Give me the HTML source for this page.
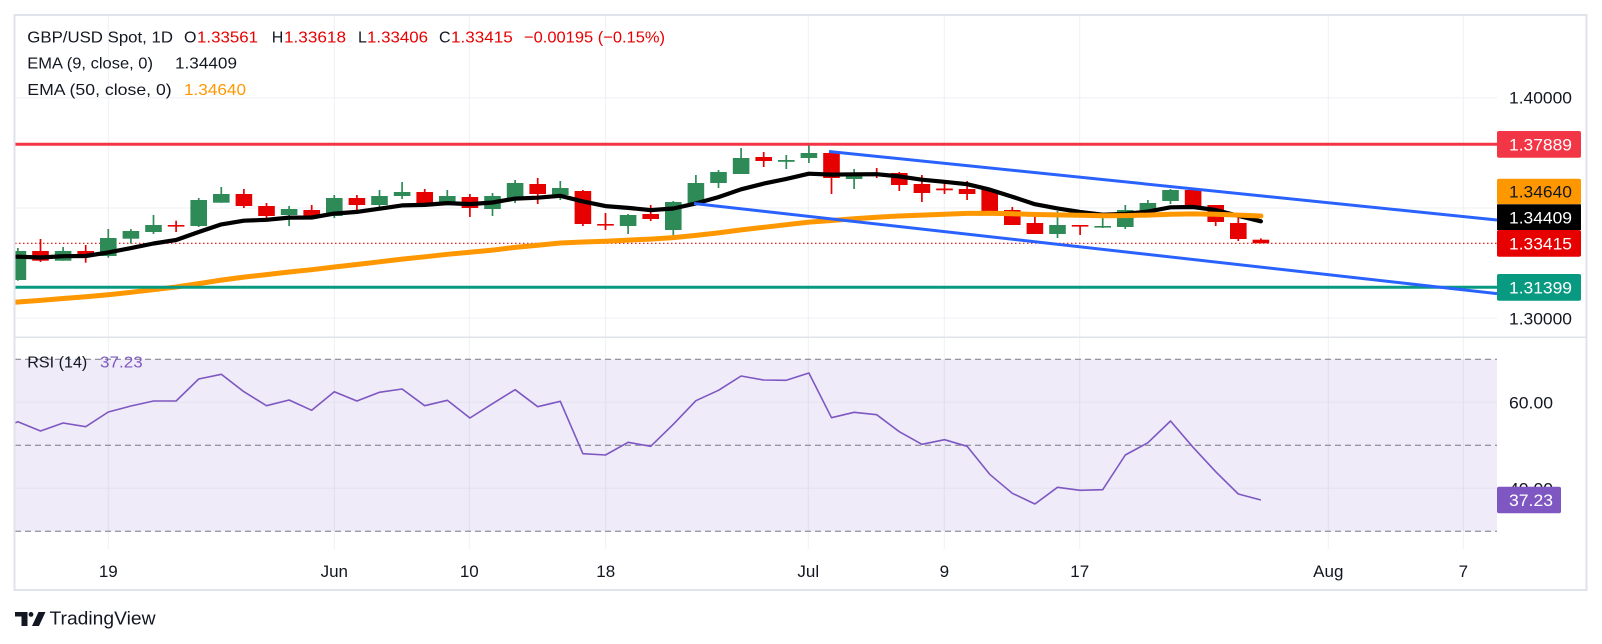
<!DOCTYPE html>
<html><head><meta charset="utf-8"><style>
html,body{margin:0;padding:0;background:#fff;}
svg{display:block;font-family:"Liberation Sans",sans-serif;}
</style></head><body>
<svg width="1602" height="644" viewBox="0 0 1602 644" xmlns="http://www.w3.org/2000/svg">
<defs>
<clipPath id="cp"><rect x="15" y="16" width="1482" height="321"/></clipPath>
<clipPath id="cr"><rect x="15" y="338" width="1482" height="211"/></clipPath>
</defs>
<rect width="1602" height="644" fill="#fff"/>
<!-- vertical grid -->
<g stroke="#EEF0F5" stroke-width="1">
<line x1="108.3" y1="15" x2="108.3" y2="549"/><line x1="334.3" y1="15" x2="334.3" y2="549"/>
<line x1="469.3" y1="15" x2="469.3" y2="549"/><line x1="605.7" y1="15" x2="605.7" y2="549"/>
<line x1="808.3" y1="15" x2="808.3" y2="549"/><line x1="944.3" y1="15" x2="944.3" y2="549"/>
<line x1="1079.7" y1="15" x2="1079.7" y2="549"/><line x1="1328.3" y1="15" x2="1328.3" y2="549"/>
<line x1="1463.3" y1="15" x2="1463.3" y2="549"/>
<line x1="15" y1="97.8" x2="1497" y2="97.8"/><line x1="15" y1="208" x2="1497" y2="208"/><line x1="15" y1="318.1" x2="1497" y2="318.1"/>
</g>
<!-- RSI pane -->
<rect x="15" y="359.3" width="1482" height="172" fill="#7E57C2" fill-opacity="0.12"/>
<g stroke="#E6E3EE" stroke-width="1"><line x1="15" y1="402.3" x2="1497" y2="402.3"/><line x1="15" y1="488.3" x2="1497" y2="488.3"/></g>
<g stroke="#787B86" stroke-width="1" stroke-dasharray="6 4">
<line x1="15" y1="359.3" x2="1497" y2="359.3"/><line x1="15" y1="445.3" x2="1497" y2="445.3"/><line x1="15" y1="531.3" x2="1497" y2="531.3"/>
</g>
<polyline clip-path="url(#cr)" fill="none" stroke="#7E57C2" stroke-width="1.6" stroke-linejoin="round" points="-4.7,432 17.9,421.7 40.5,431 63.1,423 85.7,426.7 108.3,412 130.9,406 153.5,401 176.1,401 198.7,379 221.3,374.3 243.9,391.7 266.5,405.7 289.1,400 311.7,410.3 334.3,391.7 356.9,401 379.5,392.3 402.1,389 424.7,405.7 447.3,400.3 469.9,418 492.5,403.7 515.1,389.7 537.7,406.7 560.3,401.3 582.9,453.7 605.5,455 628.1,442.3 650.7,446.3 673.3,424.3 695.9,400.7 718.5,390.3 741.1,376 763.7,380 786.3,380.3 808.9,373 831.5,417.7 854.1,412.3 876.7,414.7 899.3,431.7 921.9,444.3 944.5,439.7 967.1,446.3 989.7,474.3 1012.3,493.3 1034.9,504 1057.5,487.3 1080.1,490.3 1102.7,489.7 1125.3,455 1147.9,442.7 1170.5,421 1193.1,447.3 1215.7,471.7 1238.3,494 1260.9,500"/>

<g clip-path="url(#cp)">
<line x1="15" y1="243.3" x2="1497" y2="243.3" stroke="#E60000" stroke-width="1.2" stroke-dasharray="1.5 2.5"/>
<!-- green candles -->
<g fill="#2E8B57">
<rect x="9.6" y="251" width="16.6" height="29"/><rect x="17.05" y="248" width="1.7" height="32.7"/>
<rect x="54.8" y="251" width="16.6" height="9.7"/><rect x="62.25" y="247" width="1.7" height="13.7"/>
<rect x="100" y="238" width="16.6" height="18"/><rect x="107.45" y="229" width="1.7" height="28.7"/>
<rect x="122.6" y="231" width="16.6" height="7.7"/><rect x="130.05" y="229" width="1.7" height="14.7"/>
<rect x="145.2" y="225" width="16.6" height="7"/><rect x="152.65" y="215" width="1.7" height="19"/>
<rect x="190.4" y="200" width="16.6" height="26"/><rect x="197.85" y="198" width="1.7" height="29"/>
<rect x="213" y="194" width="16.6" height="8.7"/><rect x="220.45" y="187" width="1.7" height="15.7"/>
<rect x="280.8" y="209" width="16.6" height="6"/><rect x="288.25" y="206" width="1.7" height="20"/>
<rect x="326" y="198" width="16.6" height="18"/><rect x="333.45" y="195" width="1.7" height="23"/>
<rect x="371.2" y="196" width="16.6" height="9"/><rect x="378.65" y="190" width="1.7" height="17"/>
<rect x="393.8" y="192" width="16.6" height="4"/><rect x="401.25" y="182" width="1.7" height="17"/>
<rect x="439" y="196" width="16.6" height="6"/><rect x="446.45" y="190" width="1.7" height="12"/>
<rect x="484.2" y="196" width="16.6" height="13"/><rect x="491.65" y="193" width="1.7" height="23"/>
<rect x="506.8" y="183" width="16.6" height="16"/><rect x="514.25" y="180" width="1.7" height="23"/>
<rect x="552" y="188" width="16.6" height="7"/><rect x="559.45" y="181" width="1.7" height="19"/>
<rect x="619.8" y="215" width="16.6" height="11"/><rect x="627.25" y="214" width="1.7" height="20"/>
<rect x="665" y="202" width="16.6" height="28"/><rect x="672.45" y="201" width="1.7" height="35"/>
<rect x="687.6" y="183" width="16.6" height="21"/><rect x="695.05" y="175" width="1.7" height="29"/>
<rect x="710.2" y="172" width="16.6" height="11"/><rect x="717.65" y="170" width="1.7" height="18"/>
<rect x="732.8" y="158" width="16.6" height="16"/><rect x="740.25" y="148" width="1.7" height="26"/>
<rect x="778" y="160" width="16.6" height="1.8"/><rect x="785.45" y="155" width="1.7" height="14"/>
<rect x="800.6" y="153" width="16.6" height="5"/><rect x="808.05" y="144" width="1.7" height="19"/>
<rect x="845.8" y="173" width="16.6" height="6"/><rect x="853.25" y="169" width="1.7" height="20"/>
<rect x="1049.2" y="225" width="16.6" height="9"/><rect x="1056.65" y="211" width="1.7" height="27"/>
<rect x="1094.4" y="226" width="16.6" height="1.6"/><rect x="1101.85" y="213" width="1.7" height="15"/>
<rect x="1117" y="210" width="16.6" height="17"/><rect x="1124.45" y="205" width="1.7" height="24"/>
<rect x="1139.6" y="203" width="16.6" height="8"/><rect x="1147.05" y="200" width="1.7" height="16"/>
<rect x="1162.2" y="190" width="16.6" height="11"/><rect x="1169.65" y="189" width="1.7" height="15"/>
</g>
<!-- red candles -->
<g fill="#E60000">
<rect x="32.2" y="251" width="16.6" height="9.7"/><rect x="39.65" y="239" width="1.7" height="23"/>
<rect x="77.4" y="251" width="16.6" height="4"/><rect x="84.85" y="245" width="1.7" height="17.7"/>
<rect x="167.8" y="225" width="16.6" height="1.6"/><rect x="175.25" y="220.7" width="1.7" height="11.3"/>
<rect x="235.6" y="194" width="16.6" height="12"/><rect x="243.05" y="189" width="1.7" height="19"/>
<rect x="258.2" y="206" width="16.6" height="10"/><rect x="265.65" y="203" width="1.7" height="16"/>
<rect x="303.4" y="210" width="16.6" height="7"/><rect x="310.85" y="205" width="1.7" height="14"/>
<rect x="348.6" y="198" width="16.6" height="7"/><rect x="356.05" y="195" width="1.7" height="15"/>
<rect x="416.4" y="192" width="16.6" height="11"/><rect x="423.85" y="189" width="1.7" height="17"/>
<rect x="461.6" y="197" width="16.6" height="11"/><rect x="469.05" y="194" width="1.7" height="23"/>
<rect x="529.4" y="184" width="16.6" height="10"/><rect x="536.85" y="178" width="1.7" height="26"/>
<rect x="574.6" y="191" width="16.6" height="33"/><rect x="582.05" y="190" width="1.7" height="36"/>
<rect x="597.2" y="224" width="16.6" height="1.6"/><rect x="604.65" y="213" width="1.7" height="17"/>
<rect x="642.4" y="214" width="16.6" height="5"/><rect x="649.85" y="205" width="1.7" height="16"/>
<rect x="755.4" y="157" width="16.6" height="4"/><rect x="762.85" y="152" width="1.7" height="15"/>
<rect x="823.2" y="153" width="16.6" height="25"/><rect x="830.65" y="152" width="1.7" height="42"/>
<rect x="868.4" y="173" width="16.6" height="1.6"/><rect x="875.85" y="168" width="1.7" height="10"/>
<rect x="891" y="173" width="16.6" height="12"/><rect x="898.45" y="172" width="1.7" height="19"/>
<rect x="913.6" y="184" width="16.6" height="9"/><rect x="921.05" y="175" width="1.7" height="27"/>
<rect x="936.2" y="188.5" width="16.6" height="1.8"/><rect x="943.65" y="181" width="1.7" height="13"/>
<rect x="958.8" y="189" width="16.6" height="5"/><rect x="966.25" y="181" width="1.7" height="19"/>
<rect x="981.4" y="190" width="16.6" height="21"/><rect x="988.85" y="189" width="1.7" height="23"/>
<rect x="1004" y="210" width="16.6" height="15"/><rect x="1011.45" y="207" width="1.7" height="18"/>
<rect x="1026.6" y="223" width="16.6" height="11"/><rect x="1034.05" y="215" width="1.7" height="19"/>
<rect x="1071.8" y="225" width="16.6" height="1.6"/><rect x="1079.25" y="225" width="1.7" height="10"/>
<rect x="1184.8" y="190" width="16.6" height="16"/><rect x="1192.25" y="188" width="1.7" height="19"/>
<rect x="1207.4" y="205" width="16.6" height="17"/><rect x="1214.85" y="205" width="1.7" height="21"/>
<rect x="1230" y="223" width="16.6" height="16"/><rect x="1237.45" y="218" width="1.7" height="23"/>
<rect x="1252.6" y="239.7" width="16.6" height="3.6"/><rect x="1260.05" y="238.4" width="1.7" height="5"/>
</g>
<!-- EMA 9 -->
<polyline fill="none" stroke="#000" stroke-width="4.2" stroke-linejoin="round" stroke-linecap="round" points="-5,256.5 17.9,256.7 40.5,257.5 63.1,256.2 85.7,256 108.3,252.4 130.9,248.1 153.5,243.5 176.1,240 198.7,232 221.3,224.4 243.9,220.7 266.5,219.8 289.1,217.6 311.7,217.5 334.3,213.6 356.9,211.9 379.5,208.7 402.1,205.4 424.7,204.9 447.3,203.1 469.9,204.1 492.5,202.5 515.1,198.6 537.7,197.7 560.3,195.8 582.9,201.4 605.5,206.1 628.1,207.9 650.7,210.1 673.3,208.5 695.9,203.4 718.5,197.1 741.1,189.3 763.7,183.6 786.3,178.9 808.9,173.7 831.5,174.6 854.1,174.3 876.7,174.2 899.3,176.4 921.9,179.7 944.5,181.8 967.1,184.2 989.7,189.6 1012.3,196.7 1034.9,204.2 1057.5,208.4 1080.1,211.9 1102.7,214.7 1125.3,213.8 1147.9,211.6 1170.5,207.3 1193.1,207 1215.7,210 1238.3,215.8 1260.9,221.3"/>
<!-- EMA 50 -->
<polyline fill="none" stroke="#FF9800" stroke-width="5" stroke-linejoin="round" stroke-linecap="round" points="-5,303.5 17.9,302 40.5,300.4 63.1,298.5 85.7,296.8 108.3,294.8 130.9,292.3 153.5,289.6 176.1,287 198.7,283.6 221.3,280.1 243.9,277.1 266.5,274.6 289.1,272 311.7,269.7 334.3,267 356.9,264.5 379.5,261.8 402.1,259.1 424.7,256.8 447.3,254.3 469.9,252.3 492.5,250.1 515.1,247.4 537.7,245.2 560.3,243 582.9,242 605.5,241.2 628.1,240.1 650.7,239.1 673.3,237.6 695.9,235.4 718.5,232.9 741.1,229.9 763.7,227.3 786.3,224.7 808.9,222.1 831.5,220.5 854.1,218.8 876.7,217.2 899.3,216 921.9,215.1 944.5,214.2 967.1,213.4 989.7,213.3 1012.3,213.8 1034.9,214.5 1057.5,214.9 1080.1,215.3 1102.7,215.7 1125.3,215.6 1147.9,215.1 1170.5,214.2 1193.1,213.9 1215.7,214.2 1238.3,215.1 1260.9,216"/>
<!-- horizontal levels -->
<line x1="15" y1="144.3" x2="1497" y2="144.3" stroke="#F23645" stroke-width="3"/>
<line x1="15" y1="287.3" x2="1497" y2="287.3" stroke="#089981" stroke-width="3"/>
<!-- channel -->
<line x1="829" y1="151.5" x2="1497" y2="220" stroke="#2962FF" stroke-width="3"/>
<line x1="694" y1="203.5" x2="1497" y2="293.6" stroke="#2962FF" stroke-width="3"/>
</g>

<!-- frame -->
<rect x="14.5" y="15" width="1572" height="575" fill="none" stroke="#E0E3EB" stroke-width="2"/>
<line x1="15" y1="337.3" x2="1586" y2="337.3" stroke="#E0E3EB" stroke-width="1.5"/>

<!-- price axis -->
<g font-size="17" fill="#131722">
<text x="1509" y="103.5" textLength="63" lengthAdjust="spacingAndGlyphs">1.40000</text>
<text x="1509" y="324.5" textLength="63" lengthAdjust="spacingAndGlyphs">1.30000</text>
<text x="1509" y="408.5" textLength="44" lengthAdjust="spacingAndGlyphs">60.00</text>
<text x="1509" y="494.5" textLength="44" lengthAdjust="spacingAndGlyphs">40.00</text>
</g>
<rect x="1497" y="131" width="84" height="26.7" rx="2" fill="#F23645"/>
<rect x="1497" y="178.7" width="84" height="25.6" rx="2" fill="#FF9800"/>
<rect x="1497" y="204.3" width="84" height="25.7" fill="#000"/>
<rect x="1497" y="230" width="84" height="26.7" rx="2" fill="#E60000"/>
<rect x="1497" y="274" width="84" height="26.7" rx="2" fill="#089981"/>
<rect x="1497" y="486.7" width="64" height="26.6" rx="2" fill="#7E57C2"/>
<g font-size="17" fill="#fff">
<text x="1509" y="150.5" textLength="63" lengthAdjust="spacingAndGlyphs">1.37889</text>
<text x="1509" y="197.7" textLength="63" lengthAdjust="spacingAndGlyphs" fill="#131722">1.34640</text>
<text x="1509" y="223.4" textLength="63" lengthAdjust="spacingAndGlyphs">1.34409</text>
<text x="1509" y="249.5" textLength="63" lengthAdjust="spacingAndGlyphs">1.33415</text>
<text x="1509" y="293.5" textLength="63" lengthAdjust="spacingAndGlyphs">1.31399</text>
<text x="1509" y="506.2" textLength="44" lengthAdjust="spacingAndGlyphs">37.23</text>
</g>

<!-- time axis -->
<g font-size="17" fill="#131722" text-anchor="middle">
<text x="108.3" y="577">19</text><text x="334.3" y="577">Jun</text><text x="469.3" y="577">10</text>
<text x="605.7" y="577">18</text><text x="808.3" y="577">Jul</text><text x="944.3" y="577">9</text>
<text x="1079.7" y="577">17</text><text x="1328.3" y="577">Aug</text><text x="1463.3" y="577">7</text>
</g>

<!-- legend -->
<g font-size="16" fill="#131722">
<text x="27.3" y="42.7" textLength="145.7" lengthAdjust="spacingAndGlyphs">GBP/USD Spot, 1D</text>
<text x="184" y="42.7">O</text><text x="271.7" y="42.7">H</text><text x="358" y="42.7">L</text><text x="439" y="42.7">C</text>
<text x="27.3" y="68.3" textLength="125.7" lengthAdjust="spacingAndGlyphs">EMA (9, close, 0)</text>
<text x="175" y="68.3" textLength="62" lengthAdjust="spacingAndGlyphs">1.34409</text>
<text x="27.3" y="95" textLength="144.4" lengthAdjust="spacingAndGlyphs">EMA (50, close, 0)</text>
<text x="184" y="95" textLength="62" lengthAdjust="spacingAndGlyphs" fill="#FF9800">1.34640</text>
<text x="27.3" y="367.3" textLength="60" lengthAdjust="spacingAndGlyphs">RSI (14)</text>
<text x="100" y="367.3" textLength="42.7" lengthAdjust="spacingAndGlyphs" fill="#7E57C2">37.23</text>
</g>
<g font-size="16" fill="#E60000">
<text x="197" y="42.7" textLength="61" lengthAdjust="spacingAndGlyphs">1.33561</text>
<text x="284" y="42.7" textLength="62" lengthAdjust="spacingAndGlyphs">1.33618</text>
<text x="367" y="42.7" textLength="61" lengthAdjust="spacingAndGlyphs">1.33406</text>
<text x="451" y="42.7" textLength="61.7" lengthAdjust="spacingAndGlyphs">1.33415</text>
<text x="524" y="42.7" textLength="141" lengthAdjust="spacingAndGlyphs">−0.00195 (−0.15%)</text>
</g>

<!-- logo -->
<g fill="#131722">
<path d="M15 612h12.5v14h-6v-9.5h-6.5z"/>
<circle cx="31" cy="614.4" r="2.4"/>
<path d="M38.5 612h7l-6.5 14h-7z"/>
<text x="49.5" y="624.5" font-size="18" textLength="106" lengthAdjust="spacingAndGlyphs">TradingView</text>
</g>
</svg>
</body></html>
